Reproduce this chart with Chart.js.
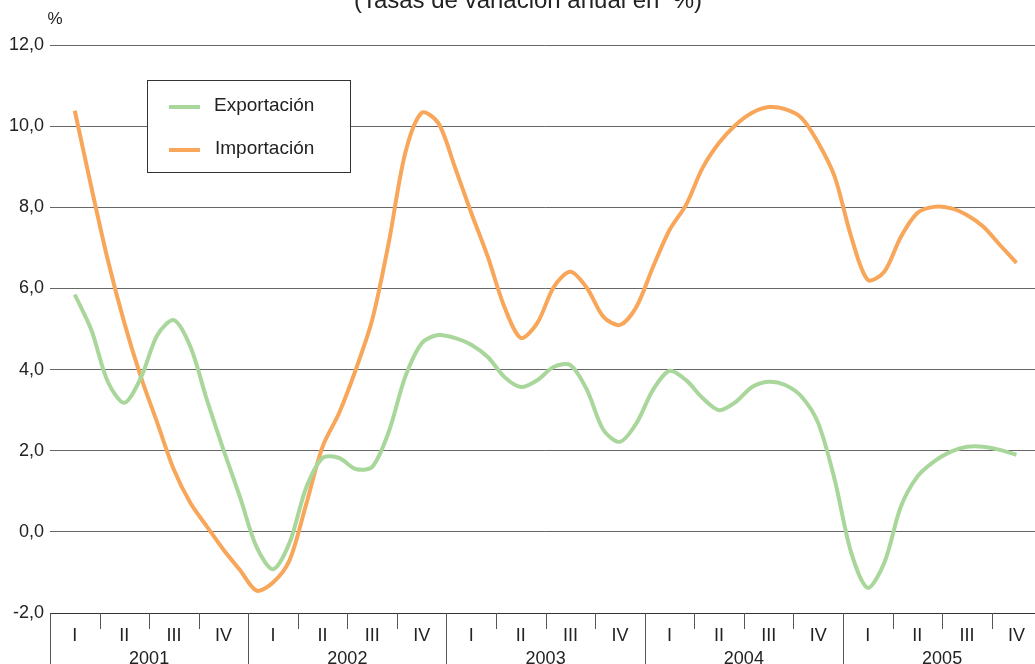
<!DOCTYPE html>
<html>
<head>
<meta charset="utf-8">
<script src="https://cdn.jsdelivr.net/npm/chart.js"></script>
<style>
  html, body { margin: 0; padding: 0; background: #fff; overflow: hidden; }
  #wrap { width: 1045px; height: 664px; }
</style>
</head>
<body>
<div id="wrap"><canvas id="tradeChart"></canvas></div>
<script>
var years = ['2001', '2002', '2003', '2004', '2005'];
var quarters = ['I', 'II', 'III', 'IV'];

// monthly rates, 3 values per quarter (first and last month are empty)
var exportacion = [
  null, 5.85, 4.98, 3.70, 3.18, 3.80, 4.85, 5.22, 4.56, 3.25, 2.02, 0.86,
  -0.37, -0.92, -0.27, 1.08, 1.82, 1.82, 1.55, 1.60, 2.46, 3.82, 4.65, 4.85,
  4.78, 4.61, 4.31, 3.82, 3.57, 3.74, 4.07, 4.11, 3.50, 2.51, 2.22, 2.68,
  3.50, 3.97, 3.74, 3.30, 3.00, 3.20, 3.57, 3.70, 3.62, 3.33, 2.68, 1.28,
  -0.52, -1.38, -0.76, 0.62, 1.36, 1.73, 1.97, 2.10, 2.10, 2.02, 1.90, null
];
var importacion = [
  null, 10.38, 8.50, 6.70, 5.15, 3.82, 2.68, 1.53, 0.71, 0.13, -0.44, -0.94,
  -1.45, -1.25, -0.70, 0.67, 2.10, 2.93, 3.99, 5.22, 7.12, 9.33, 10.33, 10.08,
  9.00, 7.86, 6.78, 5.55, 4.78, 5.15, 6.04, 6.41, 6.01, 5.30, 5.10, 5.55,
  6.53, 7.44, 8.06, 8.97, 9.59, 10.03, 10.33, 10.47, 10.42, 10.20, 9.59, 8.75,
  7.27, 6.21, 6.41, 7.27, 7.86, 8.01, 7.98, 7.81, 7.52, 7.07, 6.63, null
];

var greenLine = '#a9d69b';
var orangeLine = '#f8a65a';
var textColor = '#222';
var fontFamily = '"Liberation Sans", Arial, sans-serif';

// one label per month: year + quarter + month in quarter
var months = [];
years.forEach(function (y) {
  quarters.forEach(function (q) {
    for (var k = 0; k < 3; k++) months.push(y + ' ' + q + ' ' + k);
  });
});

// quarter ticks, year separators and year names under the x axis
var xAxisDecor = {
  id: 'xAxisDecor',
  afterDraw: function (chart) {
    var ctx = chart.ctx;
    var xs = chart.scales.x;
    var bottom = chart.chartArea.bottom;
    var half = (xs.getPixelForValue(1) - xs.getPixelForValue(0)) / 2;
    ctx.save();
    ctx.strokeStyle = '#555';
    ctx.lineWidth = 1;
    for (var q = 0; q <= years.length * 4; q++) {
      var m = q * 3;
      var x = m < months.length ? xs.getPixelForValue(m) - half : xs.getPixelForValue(m - 1) + half;
      x = Math.round(x) + 0.5;
      ctx.beginPath();
      ctx.moveTo(x, bottom);
      ctx.lineTo(x, q % 4 === 0 ? chart.height : bottom + 16);
      ctx.stroke();
    }
    ctx.fillStyle = textColor;
    ctx.font = '18px ' + fontFamily;
    ctx.textAlign = 'center';
    ctx.textBaseline = 'alphabetic';
    years.forEach(function (y, i) {
      var cx = (xs.getPixelForValue(i * 12 + 5) + xs.getPixelForValue(i * 12 + 6)) / 2;
      ctx.fillText(y, cx, 664);
    });
    ctx.restore();
  }
};

// subtitle, unit and the boxed legend
var extras = {
  id: 'extras',
  afterDatasetsDraw: function (chart) {
    var ctx = chart.ctx;
    ctx.save();
    ctx.fillStyle = textColor;
    ctx.textAlign = 'center';
    ctx.textBaseline = 'alphabetic';
    ctx.font = '24px ' + fontFamily;
    ctx.fillText('(Tasas de variación anual en  %)', 528, 8);
    ctx.font = '17px ' + fontFamily;
    ctx.fillText('%', 55, 24);

    var bx = 147.5, by = 80.5, bw = 203, bh = 92;
    ctx.fillStyle = '#fff';
    ctx.fillRect(bx, by, bw, bh);
    ctx.strokeStyle = '#333';
    ctx.lineWidth = 1;
    ctx.strokeRect(bx, by, bw, bh);
    ctx.font = '19px ' + fontFamily;
    ctx.textAlign = 'left';
    ctx.textBaseline = 'middle';
    chart.data.datasets.forEach(function (ds, i) {
      var y = 106 + i * 43;
      ctx.strokeStyle = ds.borderColor;
      ctx.lineWidth = 4;
      ctx.beginPath();
      ctx.moveTo(169, y + 1);
      ctx.lineTo(200, y + 1);
      ctx.stroke();
      ctx.fillStyle = textColor;
      ctx.fillText(ds.label, 214 + i, y);
    });
    ctx.restore();
  }
};

var tradeChart = new Chart(document.getElementById('tradeChart'), {
  type: 'line',
  data: {
    labels: months,
    datasets: [{
      label: 'Exportación',
      data: exportacion,
      borderColor: greenLine,
      borderWidth: 4,
      pointRadius: 0,
      tension: 0.3,
      fill: false
    }, {
      label: 'Importación',
      data: importacion,
      borderColor: orangeLine,
      borderWidth: 4,
      pointRadius: 0,
      tension: 0.3,
      fill: false
    }]
  },
  options: {
    responsive: true,
    maintainAspectRatio: false,
    animation: false,
    layout: { padding: { top: 45, right: 2, left: 0, bottom: 0 } },
    plugins: {
      legend: { display: false },
      tooltip: { enabled: false }
    },
    scales: {
      x: {
        offset: true,
        afterFit: function (scale) { scale.height = 51; },
        grid: { display: false, drawTicks: false },
        border: { display: true, color: '#333', width: 1 },
        ticks: {
          autoSkip: false,
          maxRotation: 0,
          padding: 12,
          color: textColor,
          font: { family: fontFamily, size: 18 },
          callback: function (value, index) {
            return index % 3 === 1 ? quarters[Math.floor(index / 3) % 4] : '';
          }
        }
      },
      y: {
        min: -2,
        max: 12,
        afterFit: function (scale) { scale.width = 50; },
        border: { display: false },
        grid: { color: '#666', lineWidth: 1, drawTicks: false },
        ticks: {
          stepSize: 2,
          padding: 6,
          color: textColor,
          font: { family: fontFamily, size: 18 },
          callback: function (v) { return v.toFixed(1).replace('.', ','); }
        }
      }
    }
  },
  plugins: [xAxisDecor, extras]
});
</script>
</body>
</html>
